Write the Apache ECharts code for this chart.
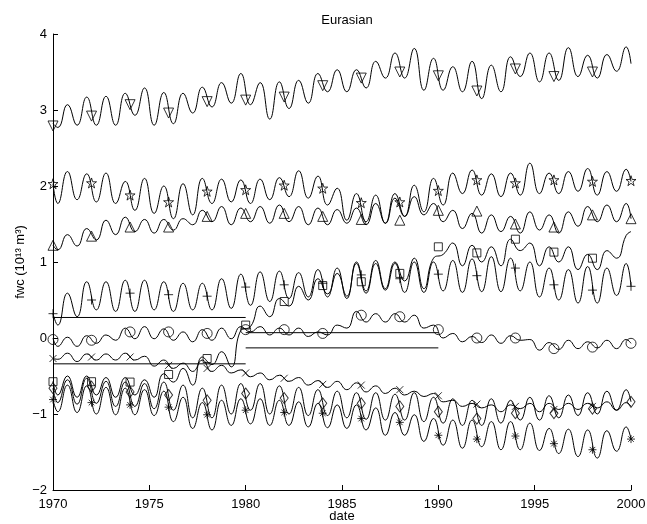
<!DOCTYPE html>
<html>
<head>
<meta charset="utf-8">
<script src="https://cdn.jsdelivr.net/npm/echarts@6.0.0/dist/echarts.min.js"></script>
<style>
body { margin: 0; background: #fff; }
#chart { width: 647px; height: 524px; }
</style>
</head>
<body>
<div id="chart"></div>
<script type="text/javascript">

// sample dates: Jan 1970, then trough/peak every half year, then Jan 2000
var dates = [1970];
for (var yr = 1970; yr < 2000; yr++) {
    dates.push(yr + 0.25, yr + 0.75);
}
dates.push(2000);

var markYears = [1970, 1972, 1974, 1976, 1978, 1980, 1982, 1984, 1986, 1988, 1990, 1992, 1994, 1996, 1998, 2000];

// curves (one value per entry of dates)
var downTri = [2.82,
    2.77, 3.07, 2.80, 3.17, 2.80, 3.18, 2.80, 3.22, 2.93, 3.29,
    2.80, 3.23, 2.82, 3.22, 2.96, 3.30, 3.04, 3.36, 3.09, 3.48,
    3.07, 3.36, 2.88, 3.37, 3.02, 3.39, 3.09, 3.48, 3.24, 3.53,
    3.24, 3.53, 3.29, 3.64, 3.42, 3.75, 3.42, 3.81, 3.26, 3.68,
    3.26, 3.57, 3.24, 3.64, 3.15, 3.59, 3.24, 3.70, 3.44, 3.75,
    3.37, 3.75, 3.39, 3.82, 3.44, 3.72, 3.42, 3.73, 3.51, 3.83,
    3.61];
var pentagram = [2.03,
    1.77, 2.19, 1.82, 2.16, 1.79, 2.17, 1.77, 2.06, 1.68, 2.10,
    1.64, 2.00, 1.57, 2.03, 1.62, 2.10, 1.77, 2.09, 1.79, 2.08,
    1.77, 2.09, 1.82, 2.11, 1.86, 2.20, 1.84, 2.13, 1.75, 1.97,
    1.55, 1.90, 1.53, 1.88, 1.51, 1.90, 1.60, 2.01, 1.66, 2.10,
    1.75, 2.17, 1.90, 2.21, 1.88, 2.16, 1.86, 2.17, 1.88, 2.30,
    1.90, 2.17, 1.90, 2.19, 1.93, 2.23, 1.88, 2.19, 1.93, 2.22,
    2.06];
var upTri = [1.22,
    1.16, 1.36, 1.21, 1.44, 1.29, 1.55, 1.36, 1.59, 1.40, 1.56,
    1.38, 1.56, 1.42, 1.57, 1.49, 1.68, 1.53, 1.73, 1.49, 1.71,
    1.53, 1.73, 1.51, 1.75, 1.53, 1.73, 1.49, 1.71, 1.49, 1.69,
    1.51, 1.71, 1.49, 1.77, 1.51, 1.84, 1.60, 1.86, 1.62, 1.77,
    1.53, 1.68, 1.44, 1.64, 1.38, 1.62, 1.40, 1.60, 1.38, 1.66,
    1.42, 1.62, 1.38, 1.66, 1.47, 1.73, 1.53, 1.75, 1.53, 1.77,
    1.57];
var plus = [0.32,
    0.17, 0.59, 0.28, 0.74, 0.37, 0.74, 0.35, 0.76, 0.35, 0.76,
    0.37, 0.74, 0.35, 0.72, 0.37, 0.72, 0.37, 0.78, 0.39, 0.84,
    0.43, 0.87, 0.48, 0.88, 0.52, 0.86, 0.54, 0.90, 0.54, 0.92,
    0.52, 0.98, 0.59, 0.98, 0.63, 0.98, 0.60, 1.00, 0.60, 1.00,
    0.62, 1.02, 0.60, 1.04, 0.61, 1.07, 0.61, 1.05, 0.62, 1.00,
    0.54, 0.92, 0.50, 0.90, 0.46, 0.94, 0.46, 0.92, 0.56, 0.98,
    0.68];
var square = [-0.57,
    -0.75, -0.50, -0.78, -0.50, -0.75, -0.52, -0.78, -0.52, -0.75, -0.55,
    -0.78, -0.47, -0.58, -0.40, -0.62, -0.25, -0.35, -0.18, -0.38, 0.10,
    0.15, 0.42, 0.28, 0.52, 0.42, 0.68, 0.50, 0.78, 0.58, 0.85,
    0.55, 1.00, 0.62, 1.02, 0.65, 1.00, 0.75, 1.05, 0.65, 1.05,
    1.10, 1.25, 0.95, 1.22, 1.00, 1.20, 0.95, 1.30, 1.15, 1.25,
    0.95, 1.20, 1.00, 1.20, 0.90, 1.10, 0.90, 1.15, 1.05, 1.35,
    1.40];
var circle = [0.00,
    -0.11, 0.01, -0.11, 0.03, -0.07, 0.04, -0.03, 0.13, -0.01, 0.15,
    -0.01, 0.12, -0.03, 0.08, -0.05, 0.11, -0.03, 0.13, -0.01, 0.15,
    0.08, 0.15, 0.04, 0.13, 0.04, 0.13, 0.02, 0.08, 0.04, 0.17,
    0.13, 0.35, 0.21, 0.32, 0.21, 0.32, 0.21, 0.30, 0.13, 0.17,
    0.00, 0.06, -0.05, 0.02, -0.06, 0.04, -0.07, 0.03, -0.03, -0.02,
    -0.16, -0.06, -0.15, -0.03, -0.14, -0.05, -0.13, -0.03, -0.14, -0.02,
    -0.07];
var cross = [-0.27,
    -0.28, -0.20, -0.31, -0.21, -0.29, -0.21, -0.29, -0.20, -0.29, -0.24,
    -0.37, -0.29, -0.40, -0.33, -0.44, -0.29, -0.44, -0.36, -0.46, -0.42,
    -0.51, -0.46, -0.55, -0.49, -0.57, -0.52, -0.62, -0.56, -0.65, -0.57,
    -0.68, -0.59, -0.71, -0.63, -0.73, -0.66, -0.75, -0.70, -0.77, -0.73,
    -0.84, -0.82, -0.90, -0.86, -0.92, -0.88, -0.97, -0.88, -0.93, -0.86,
    -0.97, -0.86, -0.94, -0.86, -0.94, -0.86, -0.92, -0.84, -0.95, -0.85,
    -0.90];
var diamond = [-0.66,
    -0.85, -0.55, -0.87, -0.53, -0.86, -0.57, -0.90, -0.58, -0.90, -0.60,
    -0.93, -0.58, -0.95, -0.62, -1.05, -0.66, -1.05, -0.62, -1.00, -0.60,
    -0.95, -0.60, -1.00, -0.63, -1.00, -0.65, -1.02, -0.68, -1.02, -0.70,
    -1.05, -0.72, -1.07, -0.72, -1.08, -0.74, -1.08, -0.72, -1.10, -0.78,
    -1.12, -0.80, -1.15, -0.82, -1.15, -0.80, -1.12, -0.82, -1.08, -0.78,
    -1.08, -0.76, -1.05, -0.75, -1.02, -0.72, -1.00, -0.70, -0.95, -0.68,
    -0.84];
var asterisk = [-0.81,
    -0.97, -0.62, -0.98, -0.63, -1.00, -0.65, -1.01, -0.66, -1.01, -0.68,
    -1.02, -0.70, -1.10, -0.78, -1.19, -0.85, -1.21, -0.82, -1.15, -0.80,
    -1.13, -0.80, -1.15, -0.82, -1.15, -0.84, -1.17, -0.86, -1.18, -0.88,
    -1.19, -0.88, -1.21, -0.92, -1.28, -0.98, -1.28, -1.01, -1.36, -1.06,
    -1.41, -1.08, -1.45, -1.08, -1.43, -1.10, -1.47, -1.10, -1.47, -1.12,
    -1.48, -1.19, -1.52, -1.20, -1.56, -1.21, -1.58, -1.22, -1.49, -1.17,
    -1.33];

// markers, one every two years (some series stop at 1998)
var downTriMarks = [2.79, 2.92, 3.07, 2.96, 3.11, 3.13, 3.17, 3.32, 3.42, 3.50, 3.45, 3.25, 3.54, 3.44, 3.50];
var pentagramMarks = [2.03, 2.04, 1.88, 1.79, 1.93, 1.95, 2.01, 1.97, 1.78, 1.79, 1.94, 2.08, 2.04, 2.08, 2.06, 2.07];
var upTriMarks = [1.22, 1.34, 1.46, 1.46, 1.60, 1.64, 1.64, 1.60, 1.56, 1.55, 1.68, 1.67, 1.50, 1.46, 1.62, 1.57];
var plusMarks = [0.32, 0.50, 0.59, 0.57, 0.55, 0.67, 0.70, 0.72, 0.83, 0.78, 0.84, 0.82, 0.92, 0.70, 0.63, 0.68];
var squareMarks = [-0.575, -0.575, -0.58, -0.48, -0.27, 0.17, 0.48, 0.69, 0.74, 0.85, 1.20, 1.12, 1.30, 1.13, 1.05];
var circleMarks = [-0.02, -0.03, 0.08, 0.08, 0.06, 0.11, 0.11, 0.06, 0.30, 0.28, 0.11, 0.00, 0.00, -0.14, -0.12, -0.07];
var crossMarks = [-0.27, -0.25, -0.25, -0.36, -0.40, -0.46, -0.53, -0.61, -0.62, -0.68, -0.76, -0.87, -0.90, -0.94, -0.90];
var diamondMarks = [-0.66, -0.64, -0.71, -0.75, -0.82, -0.73, -0.79, -0.86, -0.86, -0.90, -0.97, -1.06, -0.99, -0.99, -0.93, -0.84];
var asteriskMarks = [-0.81, -0.85, -0.88, -0.91, -1.01, -0.95, -0.98, -0.99, -1.06, -1.11, -1.28, -1.33, -1.29, -1.39, -1.47, -1.33];

// flat reference lines
var flatFrom = [1970, 1970, 1980, 1980];
var flatTo = [1980, 1980, 1990, 1990];
var flatLevel = [0.27, -0.34, 0.07, -0.13];

var starPath = 'path://M5,0L6.12,3.45L9.76,3.45L6.82,5.59L7.94,9.05L5,6.91L2.06,9.05L3.18,5.59L0.24,3.45L3.88,3.45Z';

function pairs(xs, ys) {
    var out = [];
    for (var i = 0; i < ys.length; i++) out.push([xs[i], ys[i]]);
    return out;
}

var curves = [
    {vals: downTri, marks: downTriMarks, symbol: 'triangle', rotate: 180, size: 10},
    {vals: pentagram, marks: pentagramMarks, symbol: starPath, rotate: 0, size: 10},
    {vals: upTri, marks: upTriMarks, symbol: 'triangle', rotate: 0, size: 10},
    {vals: plus, marks: plusMarks, symbol: 'path://M5,0L5,10M0,5L10,5', rotate: 0, size: 9},
    {vals: square, marks: squareMarks, symbol: 'rect', rotate: 0, size: 8},
    {vals: circle, marks: circleMarks, symbol: 'circle', rotate: 0, size: 10},
    {vals: cross, marks: crossMarks, symbol: 'path://M0,0L10,10M0,10L10,0', rotate: 0, size: 7},
    {vals: diamond, marks: diamondMarks, symbol: 'diamond', rotate: 0, size: [8, 11]},
    {vals: asterisk, marks: asteriskMarks, symbol: 'path://M5,0L5,10M0,5L10,5M1.5,1.5L8.5,8.5M1.5,8.5L8.5,1.5', rotate: 0, size: 8}
];

var series = [];
curves.forEach(function (c) {
    series.push({
        type: 'line',
        data: pairs(dates, c.vals),
        smooth: 0.5,
        symbol: 'none',
        lineStyle: {color: '#000', width: 1},
        silent: true
    });
    series.push({
        type: 'scatter',
        data: pairs(markYears, c.marks),
        symbol: c.symbol,
        symbolRotate: c.rotate,
        symbolSize: c.size,
        itemStyle: {color: 'rgba(0,0,0,0)', borderColor: '#000', borderWidth: 1},
        z: 3
    });
});
for (var k = 0; k < flatLevel.length; k++) {
    series.push({
        type: 'line',
        data: [[flatFrom[k], flatLevel[k]], [flatTo[k], flatLevel[k]]],
        symbol: 'none',
        lineStyle: {color: '#000', width: 1}
    });
}

var font = 'Liberation Sans, Arial, Helvetica, sans-serif';

var option = {
    animation: false,
    backgroundColor: '#fff',
    title: {
        text: 'Eurasian',
        left: 342,
        top: 9,
        textAlign: 'center',
        textStyle: {fontFamily: font, fontSize: 13, fontWeight: 'normal', color: '#000'}
    },
    grid: {left: 53, right: 16, top: 34, bottom: 34, containLabel: false, outerBoundsMode: 'none'},
    xAxis: {
        type: 'value',
        min: 1970,
        max: 2000,
        interval: 5,
        name: 'date',
        nameLocation: 'middle',
        nameGap: 20,
        nameMoveOverlap: false,
        nameTextStyle: {fontFamily: font, fontSize: 13, color: '#000'},
        axisLine: {onZero: false, lineStyle: {color: '#000', width: 1}},
        axisTick: {inside: true, length: 5, lineStyle: {color: '#000'}},
        axisLabel: {
            fontFamily: font, fontSize: 13, color: '#000', margin: 8,
            formatter: function (v) { return String(v); }
        },
        splitLine: {show: false}
    },
    yAxis: {
        type: 'value',
        min: -2,
        max: 4,
        interval: 1,
        name: 'fwc (10¹³ m³)',
        nameLocation: 'middle',
        nameGap: 26,
        nameMoveOverlap: false,
        nameTextStyle: {fontFamily: font, fontSize: 13, color: '#000'},
        axisLine: {onZero: false, lineStyle: {color: '#000', width: 1}},
        axisTick: {inside: true, length: 5, lineStyle: {color: '#000'}},
        axisLabel: {
            fontFamily: font, fontSize: 13, color: '#000', margin: 6,
            formatter: function (v) { return v < 0 ? '\u2212' + (-v) : String(v); }
        },
        splitLine: {show: false}
    },
    series: series
};

var chart = echarts.init(document.getElementById('chart'));
chart.setOption(option);
</script>
</body>
</html>
